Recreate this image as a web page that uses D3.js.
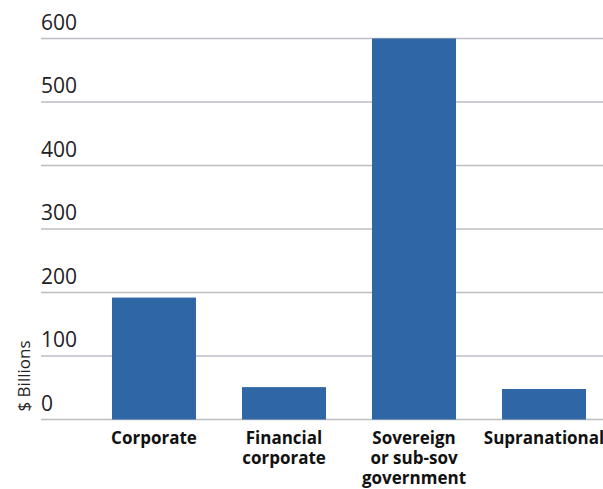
<!DOCTYPE html>
<html>
<head>
<meta charset="utf-8">
<script src="https://cdn.jsdelivr.net/npm/d3@7"></script>
<style>
  body { margin: 0; background: #fff; }
  svg { display: block; }
</style>
</head>
<body>
<svg width="603" height="489"></svg>
<script>
// data
const categories = ['Corporate', 'Financial corporate', 'Sovereign or sub-sov government', 'Supranational'];
const labelLines = [['Corporate'], ['Financial', 'corporate'], ['Sovereign', 'or sub-sov', 'government'], ['Supranational']];
const values = [192, 51, 600, 48];
const yTicks = [0, 100, 200, 300, 400, 500, 600];

const svg = d3.select('svg');
const barColor = '#2f66a5';
const gridColor = '#bdbdc4';

// scales
const x = d3.scaleBand().domain(categories).range([41, 657]).paddingInner(0.354).paddingOuter(0.546);
const y = d3.scaleLinear().domain([0, 600]).range([419.5, 38.5]);

// gridlines + tick labels
const grid = svg.append('g');
grid.selectAll('line')
    .data(yTicks).enter()
    .append('line')
    .attr('x1', 41).attr('x2', 603)
    .attr('y1', d => y(d)).attr('y2', d => y(d))
    .attr('stroke', gridColor)
    .attr('stroke-width', 1.5);

grid.selectAll('text')
    .data(yTicks).enter()
    .append('text')
    .attr('x', 41)
    .attr('y', d => y(d) - 9)
    .attr('font-family', 'Open Sans, sans-serif')
    .attr('font-size', 21)
    .attr('fill', '#222')
    .text(d => d);

// bars
svg.append('g').selectAll('rect')
    .data(values).enter()
    .append('rect')
    .attr('x', (d, i) => x(categories[i]))
    .attr('width', x.bandwidth())
    .attr('y', d => y(d))
    .attr('height', d => y(0) - y(d))
    .attr('fill', barColor);

// category labels, one text per line (tight leading like the original)
const lbl = svg.append('g').selectAll('g')
    .data(labelLines).enter()
    .append('g')
    .attr('transform', (d, i) => 'translate(' + (x(categories[i]) + x.bandwidth() / 2) + ',444)');

lbl.selectAll('text')
    .data(d => d).enter()
    .append('text')
    .attr('y', (d, i) => i * 20)
    .attr('text-anchor', 'middle')
    .attr('font-family', 'Open Sans, sans-serif')
    .attr('font-weight', 'bold')
    .attr('font-size', 17)
    .attr('fill', '#111')
    .text(d => d);

// y axis title
svg.append('text')
    .attr('transform', 'translate(30,376) rotate(-90)')
    .attr('text-anchor', 'middle')
    .attr('font-family', 'Open Sans, sans-serif')
    .attr('font-size', 17)
    .attr('fill', '#222')
    .text('$ Billions');
</script>
</body>
</html>
